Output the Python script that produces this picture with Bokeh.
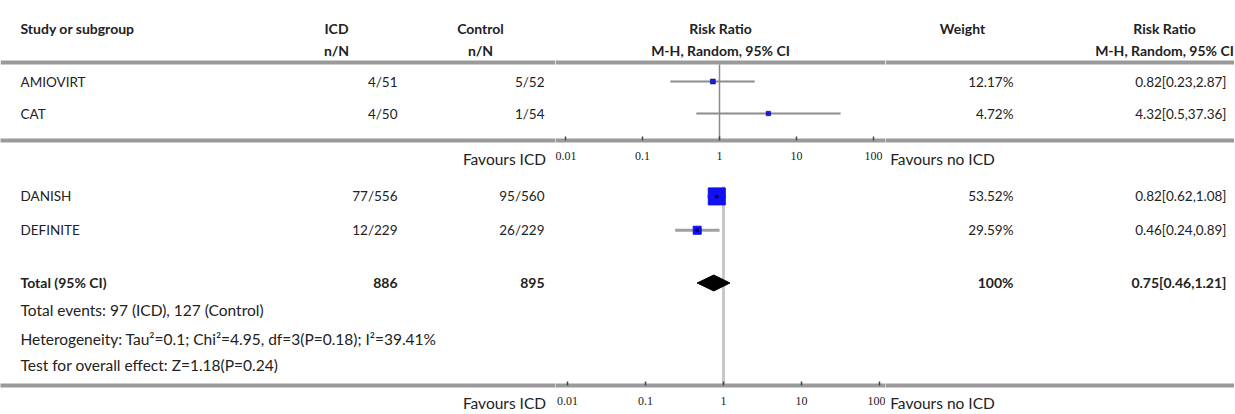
from bokeh.plotting import figure
from bokeh.models import Range1d, LogScale, LogAxis, LinearAxis, FixedTicker, ColumnDataSource
from bokeh.layouts import column, row
from bokeh.embed import file_html
from bokeh.resources import INLINE
from bokeh.core.properties import value

# ---------------- data ----------------
studies = ["AMIOVIRT", "CAT", "DANISH", "DEFINITE"]
icd_events = [4, 4, 77, 12]
icd_total = [51, 50, 556, 229]
ctl_events = [5, 1, 95, 26]
ctl_total = [52, 54, 560, 229]
rr = [0.82, 4.32, 0.82, 0.46]
rr_lo = [0.23, 0.5, 0.62, 0.24]
rr_hi = [2.87, 37.36, 1.08, 0.89]
weights = [12.17, 4.72, 53.52, 29.59]

total_icd_n = 886
total_ctl_n = 895
total_rr = 0.75
total_lo = 0.46
total_hi = 1.21
total_weight = 100
total_events_icd = 97
total_events_ctl = 127
tau2, chi2, dfree, p_het, i2 = 0.1, 4.95, 3, 0.18, 39.41
z_val, p_z = 1.18, 0.24

tick_values = [0.01, 0.1, 1, 10, 100]
tick_labels = ["0.01", "0.1", "1", "10", "100"]
favours_left = "Favours ICD"
favours_right = "Favours no ICD"

# ---------------- layout / style ----------------
FONT = "Lato"
TXT = "#222222"
LINE = "#9a9a9a"
B_LEFT, B_MID, B_RIGHT = 555, 885, 1234          # column-block borders (px)
X_NAME, X_ICD, X_CTL, X_RR, X_W, X_RRT = 20, 397, 544, 720, 1013, 1226
FAV_L_CENTER, FAV_R_CENTER = 504, 942
ROW_SIZE, FOOT_SIZE, HEAD_SIZE = "13.5px", "15.5px", "14px"
marker_px = [5, 4.5, 17, 8]


def rr_text(a, b, c):
    return f"{a:g}[{b:g},{c:g}]"


def style_axis(ax, standoff, font, size):
    ax.axis_line_color = LINE
    ax.axis_line_width = 4
    ax.minor_tick_line_color = None
    ax.major_label_text_font = font
    ax.major_label_text_font_size = size
    ax.major_label_text_color = TXT
    ax.major_label_standoff = standoff


def base_fig(x0, x1, y_top, y_axis, height):
    p = figure(width=x1 - x0, height=height,
               x_range=Range1d(x0, x1), y_range=Range1d(y_axis, y_top),
               x_axis_location=None, y_axis_location=None,
               toolbar_location=None, output_backend="svg",
               min_border_left=0, min_border_right=0, min_border_top=0,
               min_border_bottom=height - (y_axis - y_top), outline_line_color=None,
               background_fill_color="white", border_fill_color="white")
    p.grid.visible = False
    return p


def side_fig(x0, x1, y_top, y_axis, height, fav_x, fav_text, standoff):
    p = base_fig(x0, x1, y_top, y_axis, height)
    ax = LinearAxis(ticker=FixedTicker(ticks=[fav_x]), major_label_overrides={fav_x: fav_text})
    style_axis(ax, standoff, FONT, FOOT_SIZE)
    ax.major_tick_line_color = None
    p.add_layout(ax, "below")
    return p


def mid_fig(y_top, y_axis, height, one_px, decade, standoff):
    p = base_fig(B_LEFT, B_MID, y_top, y_axis, height)
    p.extra_x_ranges = {"rr": Range1d(10 ** ((B_LEFT - one_px) / decade),
                                      10 ** ((B_MID - one_px) / decade))}
    p.extra_x_scales = {"rr": LogScale()}
    ax = LogAxis(x_range_name="rr", ticker=FixedTicker(ticks=tick_values),
                 major_label_overrides=dict(zip(tick_values, tick_labels)))
    style_axis(ax, standoff, "Liberation Serif", "12px")
    ax.major_tick_in = 4
    ax.major_tick_out = 0
    ax.major_tick_line_color = "#444444"
    ax.major_tick_line_width = 1.5
    p.add_layout(ax, "below")
    return p


def txt(p, xs, ys, texts, align="left", bold=False, size=ROW_SIZE):
    src = ColumnDataSource(dict(x=xs, y=ys, t=texts))
    p.text(x="x", y="y", text="t", source=src, text_align=align,
           text_baseline="middle", text_font=value(FONT), text_font_size=size,
           text_font_style="bold" if bold else "normal", text_color=TXT)


def hline(p, x0, x1, y):
    p.segment(x0=[x0], x1=[x1], y0=[y], y1=[y], line_color=LINE, line_width=4)


# ============ top section (screen y 0..175) ============
top_rows_y = [81, 113]
Y_HEAD1, Y_HEAD2, Y_HLINE, Y_AX1, H1 = 28, 50, 62, 140, 175
tl = side_fig(0, B_LEFT, 0, Y_AX1, H1, FAV_L_CENTER, favours_left, 3)
tm = mid_fig(0, Y_AX1, H1, 719, 77, 11)
tr = side_fig(B_MID, B_RIGHT, 0, Y_AX1, H1, FAV_R_CENTER, favours_right, 3)

for p, a, b in ((tl, 0, B_LEFT), (tm, B_LEFT, B_MID), (tr, B_MID, B_RIGHT)):
    hline(p, a, b, Y_HLINE)

# headers
txt(tl, [X_NAME], [Y_HEAD1], ["Study or subgroup"], bold=True, size=HEAD_SIZE)
txt(tl, [336, 480], [Y_HEAD1] * 2, ["ICD", "Control"], align="center", bold=True, size=HEAD_SIZE)
txt(tl, [336, 480], [Y_HEAD2] * 2, ["n/N", "n/N"], align="center", bold=True, size=HEAD_SIZE)
txt(tm, [X_RR, X_RR], [Y_HEAD1, Y_HEAD2], ["Risk Ratio", "M-H, Random, 95% CI"],
    align="center", bold=True, size=HEAD_SIZE)
txt(tr, [962, 1164], [Y_HEAD1] * 2, ["Weight", "Risk Ratio"], align="center", bold=True, size=HEAD_SIZE)
txt(tr, [1164], [Y_HEAD2], ["M-H, Random, 95% CI"], align="center", bold=True, size=HEAD_SIZE)

idx = [0, 1]
txt(tl, [X_NAME] * 2, top_rows_y, [studies[i] for i in idx])
txt(tl, [X_ICD] * 2, top_rows_y, [f"{icd_events[i]}/{icd_total[i]}" for i in idx], align="right")
txt(tl, [X_CTL] * 2, top_rows_y, [f"{ctl_events[i]}/{ctl_total[i]}" for i in idx], align="right")
txt(tr, [X_W] * 2, top_rows_y, [f"{weights[i]:.2f}%" for i in idx], align="right")
txt(tr, [X_RRT] * 2, top_rows_y, [rr_text(rr[i], rr_lo[i], rr_hi[i]) for i in idx], align="right")

tm.segment(x0=[1], x1=[1], y0=[64], y1=[Y_AX1], x_range_name="rr", line_color="#8a8a8a", line_width=1.5)
tm.segment(x0=[rr_lo[i] for i in idx], x1=[rr_hi[i] for i in idx], y0=top_rows_y, y1=top_rows_y,
           x_range_name="rr", line_color="#8c8c8c", line_width=2)
tm.scatter(x=[rr[i] for i in idx], y=top_rows_y, size=[marker_px[i] for i in idx], marker="square",
           fill_color="#1a1ad8", line_color="#000080", line_width=0.5, x_range_name="rr")

# ============ bottom section (screen y 175..414) ============
bot_rows_y = [196, 230]
Y_TOTAL, Y_AX2, BOT_END = 283, 386, 414
H2 = BOT_END - H1
bl = side_fig(0, B_LEFT, H1, Y_AX2, H2, FAV_L_CENTER, favours_left, 2)
bm = mid_fig(H1, Y_AX2, H2, 723, 78, 11)
br = side_fig(B_MID, B_RIGHT, H1, Y_AX2, H2, FAV_R_CENTER, favours_right, 2)

idx = [2, 3]
txt(bl, [X_NAME] * 2, bot_rows_y, [studies[i] for i in idx])
txt(bl, [X_ICD] * 2, bot_rows_y, [f"{icd_events[i]}/{icd_total[i]}" for i in idx], align="right")
txt(bl, [X_CTL] * 2, bot_rows_y, [f"{ctl_events[i]}/{ctl_total[i]}" for i in idx], align="right")
txt(br, [X_W] * 2, bot_rows_y, [f"{weights[i]:.2f}%" for i in idx], align="right")
txt(br, [X_RRT] * 2, bot_rows_y, [rr_text(rr[i], rr_lo[i], rr_hi[i]) for i in idx], align="right")

# total row
txt(bl, [X_NAME], [Y_TOTAL], ["Total (95% CI)"], bold=True, size=HEAD_SIZE)
txt(bl, [X_ICD, X_CTL], [Y_TOTAL] * 2, [str(total_icd_n), str(total_ctl_n)],
    align="right", bold=True, size=HEAD_SIZE)
txt(br, [X_W, X_RRT], [Y_TOTAL] * 2, [f"{total_weight}%", rr_text(total_rr, total_lo, total_hi)],
    align="right", bold=True, size=HEAD_SIZE)

# footer
txt(bl, [X_NAME] * 3, [310, 339, 365],
    [f"Total events: {total_events_icd} (ICD), {total_events_ctl} (Control)",
     f"Heterogeneity: Tau\u00b2={tau2:g}; Chi\u00b2={chi2:g}, df={dfree}(P={p_het:g}); I\u00b2={i2:g}%",
     f"Test for overall effect: Z={z_val:g}(P={p_z:g})"], size=FOOT_SIZE)

bm.segment(x0=[1], x1=[1], y0=[186], y1=[Y_AX2], x_range_name="rr", line_color="#c8c8c8", line_width=3)
bm.segment(x0=[rr_lo[i] for i in idx], x1=[rr_hi[i] for i in idx], y0=bot_rows_y, y1=bot_rows_y,
           x_range_name="rr", line_color="#a0a0a0", line_width=3)
bm.scatter(x=[rr[i] for i in idx], y=bot_rows_y, size=[marker_px[i] for i in idx], marker="square",
           fill_color="#1010f0", line_color="#1010f0", x_range_name="rr")
bm.scatter(x=[rr[i] for i in idx], y=bot_rows_y, size=4, marker="circle",
           fill_color="#000070", line_color=None, x_range_name="rr")
bm.patch(x=[total_lo, total_rr, total_hi, total_rr], y=[Y_TOTAL, Y_TOTAL - 8, Y_TOTAL, Y_TOTAL + 8],
         fill_color="black", line_color="black", x_range_name="rr")

layout = column(row(tl, tm, tr, spacing=0), row(bl, bm, br, spacing=0), spacing=0)
open("out.html", "w").write(file_html(layout, INLINE))
